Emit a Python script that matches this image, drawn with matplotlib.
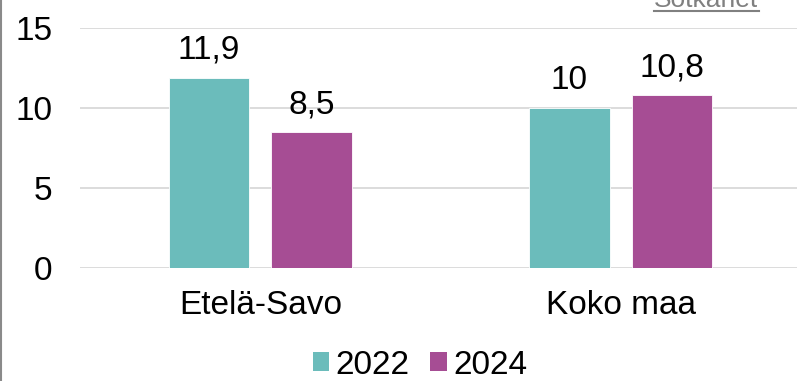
import matplotlib.pyplot as plt
import numpy as np
from matplotlib.lines import Line2D
from matplotlib.patches import Patch

plt.rcParams['font.family'] = ['Liberation Sans', 'DejaVu Sans']

regions = ['Etelä-Savo', 'Koko maa']
years = ['2022', '2024']
values_2022 = [11.9, 10.0]
values_2024 = [8.5, 10.8]
colors = ['#6BBCBB', '#A64D94']

W, H = 797, 381
FS = 24
fig = plt.figure(figsize=(W / 100, H / 100), dpi=100)
# axes in pixel terms: x 80..801, y 28..268 (top-down)
ax = fig.add_axes([80 / W, (H - 268) / H, 721 / W, 240 / H])

x = np.arange(len(regions))
bw = 0.224
gap = 0.061
offs = (bw + gap) / 2

for vals, col, off in [(values_2022, colors[0], -offs), (values_2024, colors[1], offs)]:
    bars = ax.bar(x + off, vals, width=bw, color=col, edgecolor='#ffffff',
                  linewidth=0.6, zorder=3)
    for b, v in zip(bars, vals):
        lbl = f'{v:g}'.replace('.', ',')
        ax.annotate(lbl, (b.get_x() + b.get_width() / 2, v), xytext=(0, 13.4),
                    textcoords='offset points', ha='center', va='baseline',
                    fontsize=FS, color='#000000')

ax.set_xlim(-0.5, 1.5)
ax.set_ylim(0, 15)
ax.set_yticks([0, 5, 10, 15])
ax.set_xticks(x)
ax.set_xticklabels(regions)
ax.tick_params(axis='both', length=0, labelsize=FS, colors='#000000')
ax.tick_params(axis='y', pad=20)
ax.tick_params(axis='x', pad=16)
ax.yaxis.grid(True, color='#D9D9D9', linewidth=1.3, zorder=0)
ax.set_axisbelow(True)
for s in ax.spines.values():
    s.set_visible(False)

handles = [Patch(facecolor=c, edgecolor='none') for c in colors]
fig.legend(handles, years, loc='center', bbox_to_anchor=(420 / W, (H - 365) / H),
           ncol=2, frameon=False, fontsize=FS, handlelength=0.5, handleheight=0.5,
           handletextpad=0.18, columnspacing=0.63, borderpad=0.2)

# source link at the top right, partly cut off
fig.text(706 / W, (H - 7) / H, 'Sotkanet', ha='center', va='baseline',
         fontsize=19, color='#808080')
fig.add_artist(Line2D([654 / W, 759 / W], [(H - 11) / H] * 2, color='#808080',
                      linewidth=1.5, transform=fig.transFigure))
# left frame edge
fig.add_artist(Line2D([1 / W, 1 / W], [0, 1], color='#8A8A8A', linewidth=1.5,
                      transform=fig.transFigure))

fig.savefig('out.png', dpi=100)
